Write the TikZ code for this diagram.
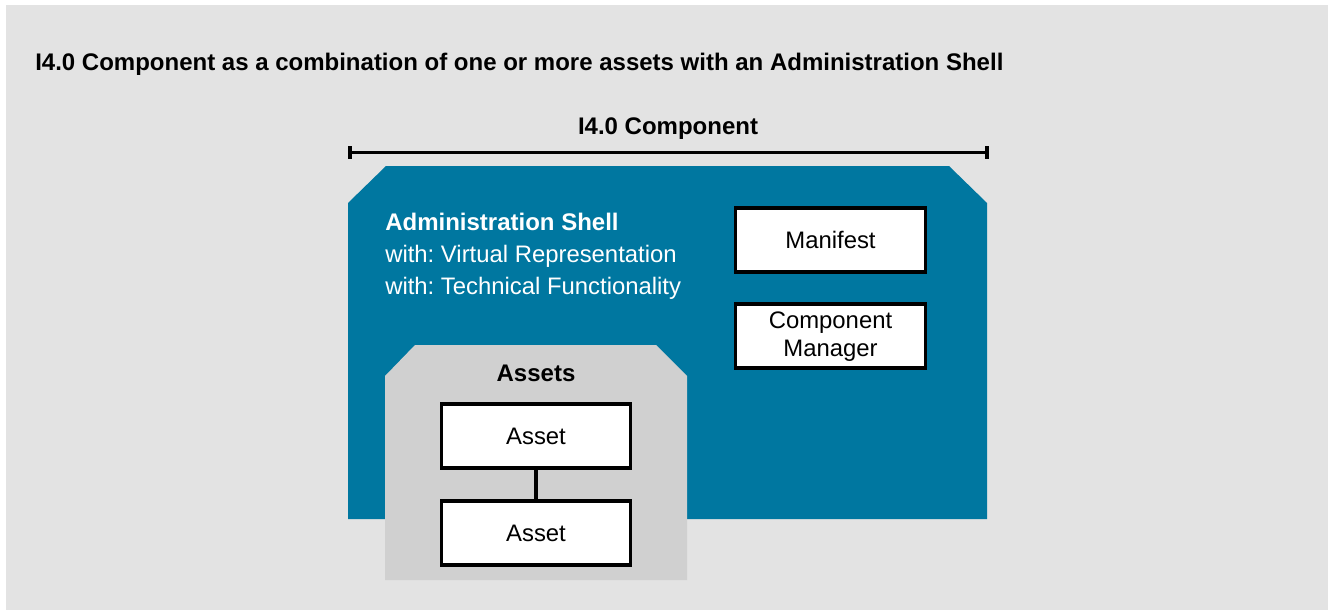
\documentclass[tikz,border=0pt]{standalone}
\usepackage{fontspec}
\setmainfont{Liberation Sans}
\frenchspacing
\definecolor{shellblue}{RGB}{0,119,160}
\definecolor{assetgray}{RGB}{208,208,208}
\definecolor{bggray}{RGB}{227,227,227}
\tikzset{
    bodytext/.style={font=\fontsize{17.9}{20}\selectfont, inner sep=0pt},
    headtext/.style={font=\fontsize{18}{20}\selectfont\bfseries, inner sep=0pt},
    plainbox/.style={draw=black, line width=2.3pt, fill=white, bodytext, align=center,
        minimum width=142pt, minimum height=48pt, inner sep=0pt},
}
\begin{document}
\begin{tikzpicture}[x=0.75pt, y=-0.75pt]
        \useasboundingbox (0, 0) rectangle (1328, 610);
        \fill [bggray] (6, 5) rectangle (1328, 610);
        \node [headtext, anchor=base west] (title) at (35, 70) {I4.0 Component as a combination of one or more assets with an Administration Shell};
        % dimension line
        \node [headtext, anchor=base] (comp) at (668, 134) {I4.0 Component};
        \coordinate (dimL) at (350, 152.7);
        \coordinate (dimR) at (987, 152.7);
        \draw [line width=2.5pt] (dimL) -- (dimR);
        \draw [line width=2.5pt] ([yshift=4.8pt]dimL) -- ([yshift=-4.8pt]dimL);
        \draw [line width=2.5pt] ([yshift=4.8pt]dimR) -- ([yshift=-4.8pt]dimR);
        % administration shell
        \fill [shellblue] (348, 519) -- (348, 203) -- (386, 166) -- (949, 166) -- (987, 203) -- (987, 519) -- cycle;
        \node [headtext, text=white, anchor=base west] (shell) at (385, 230) {Administration Shell};
        \node [bodytext, text=white, anchor=base west] (virt) at (385, 262) {with: Virtual Representation};
        \node [bodytext, text=white, anchor=base west] (tech) at (385, 294) {with: Technical Functionality};
        \node [plainbox] (manifest) at (830.5, 240) {Manifest};
        \node [plainbox, text depth=3pt] (manager) at (830.5, 336) {Component\\[1.2pt]Manager};
        % assets
        \fill [assetgray] (385, 580) -- (385, 376) -- (415, 345) -- (656, 345) -- (687, 376) -- (687, 580) -- cycle;
        \node [headtext, anchor=base] (assets) at (536, 381) {Assets};
        \node [plainbox] (asset1) at (536, 436) {Asset};
        \node [plainbox] (asset2) at (536, 533) {Asset};
        \draw [line width=2.3pt] (asset1) -- (asset2);
    \end{tikzpicture}
\end{document}
